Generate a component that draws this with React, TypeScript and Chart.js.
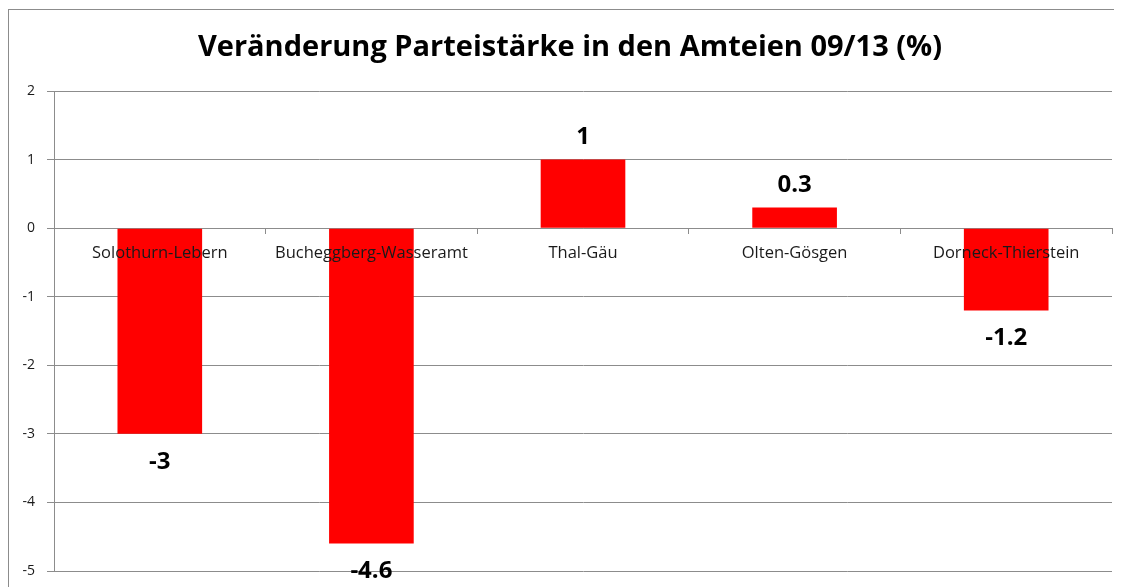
import React, { useEffect, useRef } from "react";
import { Chart, registerables } from "chart.js";

Chart.register(...registerables);

const TITLE = "Veränderung Parteistärke in den Amteien 09/13 (%)";
const CATEGORIES = [
  "Solothurn-Lebern",
  "Bucheggberg-Wasseramt",
  "Thal-Gäu",
  "Olten-Gösgen",
  "Dorneck-Thierstein",
];
const VALUES = [-3, -4.6, 1, 0.3, -1.2];
const Y_MIN = -5;
const Y_MAX = 2;

const FONT = "'Open Sans', 'Noto Sans', sans-serif";

const titleText = {
  id: "titleText",
  afterDraw(chart: any) {
    const ctx = chart.ctx;
    ctx.save();
    ctx.font = `bold 29px ${FONT}`;
    ctx.fillStyle = "#000";
    ctx.textAlign = "center";
    ctx.textBaseline = "middle";
    ctx.fillText(TITLE, chart.width / 2, 38);
    ctx.restore();
  },
};

const valueLabels = {
  id: "valueLabels",
  afterDraw(chart: any) {
    const ctx = chart.ctx;
    const meta = chart.getDatasetMeta(0);
    ctx.save();
    ctx.font = `bold 24px ${FONT}`;
    ctx.fillStyle = "#000";
    ctx.textAlign = "center";
    ctx.textBaseline = "middle";
    meta.data.forEach((bar: any, i: number) => {
      const v = VALUES[i];
      const y = v >= 0 ? bar.y - 22 : bar.y + 28;
      ctx.fillText(String(v), bar.x, y);
    });
    ctx.restore();
  },
};

export default function App() {
  const ref = useRef<HTMLCanvasElement>(null);
  useEffect(() => {
    document.body.style.overflow = "hidden";
    const chart = new Chart(ref.current!, {
      type: "bar",
      data: {
        labels: CATEGORIES,
        datasets: [
          {
            data: VALUES,
            backgroundColor: "#ff0000",
            borderWidth: 0,
            barPercentage: 0.4,
            categoryPercentage: 1,
          },
        ],
      },
      options: {
        responsive: false,
        animation: false,
        layout: { padding: { left: 0, right: 19, top: 81, bottom: 29 } },
        plugins: {
          legend: { display: false },
          tooltip: { enabled: false },
          title: { display: false },
        },
        scales: {
          x: {
            position: { y: 0 } as any,
            grid: {
              display: true,
              drawOnChartArea: false,
              offset: true,
              tickLength: 5,
              color: "#8c8c8c",
            },
            border: { display: true, color: "#8c8c8c", width: 1 },
            ticks: {
              z: 1,
              color: "#1a1a1a",
              font: { family: FONT, size: 16.5 },
              padding: 10,
              maxRotation: 0,
              autoSkip: false,
            },
          },
          y: {
            min: Y_MIN,
            max: Y_MAX,
            afterFit(scale: any) {
              scale.width = 45;
            },
            grid: {
              color: "#8c8c8c",
              tickLength: 7,
            },
            border: { display: true, color: "#8c8c8c", width: 1 },
            ticks: {
              stepSize: 1,
              color: "#1a1a1a",
              font: { family: FONT, size: 14 },
              padding: 12,
            },
          },
        },
      },
      plugins: [titleText, valueLabels],
    });
    return () => chart.destroy();
  }, []);

  return (
    <div style={{ width: 1114, height: 579, overflow: "hidden" }}>
      <div
        style={{
          width: 1140,
          height: 600,
          borderLeft: "1px solid #8c8c8c",
          borderTop: "1px solid #8c8c8c",
          marginTop: 1,
          background: "#fff",
        }}
      >
        <canvas ref={ref} width={1122} height={590} style={{ display: "block" }} />
      </div>
    </div>
  );
}
